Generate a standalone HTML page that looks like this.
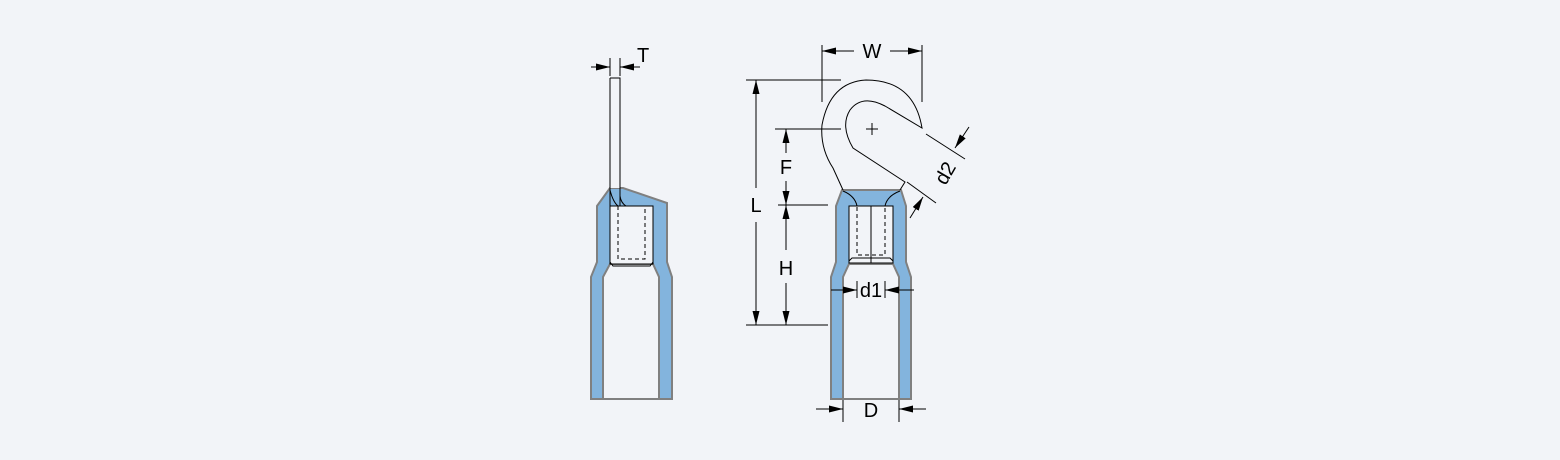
<!DOCTYPE html>
<html><head><style>body{margin:0;background:#f2f4f8}svg{display:block}</style></head><body>
<svg width="1560" height="460" xmlns="http://www.w3.org/2000/svg" font-family="Liberation Sans, sans-serif">
<defs>
<marker id="a" viewBox="0 0 12 6" refX="12" refY="3" markerWidth="14" markerHeight="7" markerUnits="userSpaceOnUse" orient="auto"><path d="M0,0L12,3L0,6z" fill="#000"/></marker>
</defs>
<rect width="1560" height="460" fill="#f2f4f8"/>
<!-- LEFT -->
<g stroke="#000" stroke-width="1" fill="none">
<line x1="610" y1="58" x2="610" y2="76"/><line x1="620" y1="58" x2="620" y2="76"/>
<line x1="591" y1="67" x2="610" y2="67" marker-end="url(#a)"/><line x1="640" y1="67" x2="620" y2="67" marker-end="url(#a)"/>
</g>
<text x="637" y="62" font-size="20">T</text>
<path d="M591,399V277L597,262V206L610,188H623L667,203V262L672,277V399ZM603,399H659V277L653,264H610L603,277Z" fill="#83b4dd" fill-rule="evenodd" stroke="#808080" stroke-width="2"/>
<rect x="610" y="206" width="43" height="58" fill="#f2f4f8" stroke="#000" stroke-width="1"/>
<rect x="610" y="78" width="10" height="110" fill="#f2f4f8"/>
<path d="M610,78H620V206M610,78V206" stroke="#000" fill="none"/>
<path d="M610,190Q613,202 618,206M620,196Q621,203 626,206" stroke="#000" fill="none"/>
<path d="M618,206V259H645V206" stroke="#000" stroke-dasharray="4,3" fill="none"/>
<path d="M610,262L613,266H650L653,262" stroke="#000" fill="none"/>
<!-- RIGHT sleeve -->
<path d="M831,399V277L836,262V206L842,190H901L906,206V262L911,277V399ZM843,399H899V277L893,264H849L843,277Z" fill="#83b4dd" fill-rule="evenodd" stroke="#808080" stroke-width="2"/>
<rect x="849" y="206" width="44" height="57" fill="#f2f4f8" stroke="#000"/>
<line x1="871" y1="206" x2="871" y2="263" stroke="#000"/>
<path d="M857,207V255H885V207" stroke="#000" stroke-dasharray="4,3" fill="none"/>
<path d="M849,261L852,258H890L893,261" stroke="#000" fill="none"/>
<path d="M843,191Q855,196 857,206M900,191Q887,196 885,206" stroke="#000" fill="none"/>
<!-- hook -->
<path d="M843,190L833,168Q820,148 822,125Q830,82 866,80Q914,80 922,128L885,106Q862,94 850,110Q840,126 853,148L905,182L900,190" stroke="#000" fill="none"/>
<path d="M866,129H878M872,123V135" stroke="#000"/>
<!-- dims -->
<g stroke="#000" stroke-width="1" fill="none">
<line x1="822" y1="45" x2="822" y2="102"/><line x1="922" y1="45" x2="922" y2="102"/>
<line x1="854" y1="51" x2="822" y2="51" marker-end="url(#a)"/><line x1="890" y1="51" x2="922" y2="51" marker-end="url(#a)"/>
<line x1="746" y1="80" x2="841" y2="80"/><line x1="746" y1="325" x2="828" y2="325"/>
<line x1="756" y1="188" x2="756" y2="80" marker-end="url(#a)"/><line x1="756" y1="222" x2="756" y2="325" marker-end="url(#a)"/>
<line x1="775" y1="129" x2="841" y2="129"/><line x1="778" y1="205" x2="828" y2="205"/>
<line x1="786" y1="153" x2="786" y2="129" marker-end="url(#a)"/><line x1="786" y1="181" x2="786" y2="205" marker-end="url(#a)"/>
<line x1="786" y1="250" x2="786" y2="205" marker-end="url(#a)"/><line x1="786" y1="283" x2="786" y2="325" marker-end="url(#a)"/>
<line x1="857" y1="281" x2="857" y2="298"/><line x1="885" y1="281" x2="885" y2="298"/>
<line x1="831" y1="290" x2="857" y2="290" marker-end="url(#a)"/><line x1="914" y1="290" x2="885" y2="290" marker-end="url(#a)"/>
<line x1="843" y1="400" x2="843" y2="422"/><line x1="899" y1="400" x2="899" y2="422"/>
<line x1="816" y1="409" x2="843" y2="409" marker-end="url(#a)"/><line x1="926" y1="409" x2="899" y2="409" marker-end="url(#a)"/>
<line x1="926" y1="134" x2="965" y2="159"/><line x1="907" y1="182" x2="936" y2="203"/>
<line x1="969" y1="127" x2="955" y2="148" marker-end="url(#a)"/><line x1="910" y1="218" x2="923" y2="197" marker-end="url(#a)"/>
</g>
<g font-size="20" text-anchor="middle">
<text x="872" y="58">W</text>
<text x="756" y="212">L</text>
<text x="786" y="174">F</text>
<text x="786" y="275">H</text>
<text x="871" y="297">d1</text>
<text x="871" y="417">D</text>
<text x="0" y="0" transform="translate(945,173) rotate(-60)" dy="7">d2</text>
</g>
</svg>
</body></html>
